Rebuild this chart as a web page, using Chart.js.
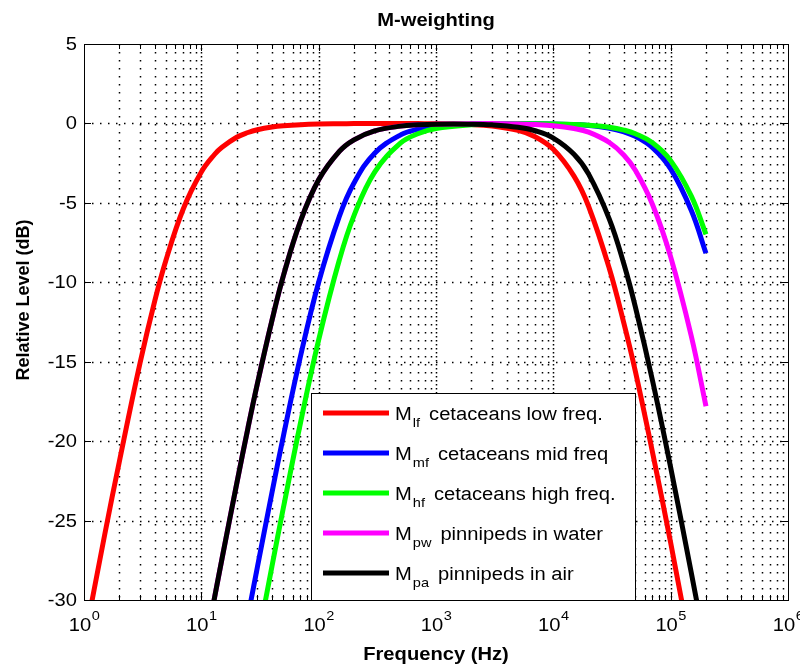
<!DOCTYPE html>
<html>
<head>
<meta charset="utf-8">
<script src="https://cdn.jsdelivr.net/npm/chart.js@4/dist/chart.umd.min.js"></script>
<style>
html,body{margin:0;padding:0;background:#fff;}
#wrap{width:800px;height:666px;position:relative;}
canvas{display:block;}
</style>
</head>
<body>
<div id="wrap"><canvas id="c" width="800" height="666"></canvas></div>
<script>
// ---------------- data ----------------
const chartTitle = 'M-weighting';
const xAxisTitle = 'Frequency (Hz)';
const yAxisTitle = 'Relative Level (dB)';

const freqHz = [1, 1.5, 2, 3, 4, 5, 7, 10, 13, 15, 20, 25, 30, 40, 50, 70, 100, 150, 200, 300, 500, 700,
  1000, 2000, 3000, 5000, 7000, 10000, 15000, 20000, 30000, 40000, 50000, 70000, 100000, 150000, 200000];

// M_lf cetaceans low freq.
const levelLF = [-32.7, -25.9, -21.3, -15.1, -11.2, -8.6, -5.4, -3.06, -1.94, -1.5, -0.87, -0.57, -0.4, -0.23, -0.15, -0.08, -0.04, -0.02, -0.01, 0, 0, -0.01,
  -0.02, -0.07, -0.16, -0.44, -0.84, -1.63, -3.32, -5.23, -9.13, -12.6, -15.6, -20.7, -26.4, -33.3, -38.2];
// M_mf cetaceans mid freq
const levelMF = [null, null, null, null, null, null, null, null, null, null, -34.8, -31.0, -27.96, -23.23, -19.69, -14.66, -10.0, -5.85, -3.75, -1.87, -0.72, -0.37,
  -0.19, -0.05, -0.02, -0.02, -0.02, -0.03, -0.08, -0.13, -0.3, -0.53, -0.81, -1.52, -2.86, -5.48, -8.17];
// M_hf cetaceans high freq.
const levelHF = [null, null, null, null, null, null, null, null, null, null, null, null, -32.72, -27.88, -24.2, -18.85, -13.63, -8.6, -5.8, -3.06, -1.23, -0.65,
  -0.32, -0.08, -0.04, -0.02, -0.02, -0.03, -0.06, -0.11, -0.24, -0.42, -0.65, -1.22, -2.34, -4.58, -6.98];
// M_pw pinnipeds in water
const levelPW = [null, null, null, null, null, null, null, -34.2, -29.8, -27.4, -22.7, -19.15, -16.4, -12.4, -9.6, -6.15, -3.55, -1.76, -1.03, -0.47, -0.17, -0.09,
  -0.05, -0.02, -0.01, -0.04, -0.07, -0.14, -0.32, -0.55, -1.2, -2.0, -2.95, -5.1, -8.4, -13.4, -17.8];
// M_pa pinnipeds in air
const levelPA = [null, null, null, null, null, null, null, -34.2, -29.8, -27.4, -22.7, -19.15, -16.4, -12.4, -9.6, -6.15, -3.55, -1.76, -1.03, -0.47, -0.17, -0.09,
  -0.05, -0.05, -0.09, -0.24, -0.46, -0.92, -1.94, -3.19, -6.02, -8.87, -11.55, -16.18, -21.66, -28.3, -33.15];

const seriesSubscripts = ['lf', 'mf', 'hf', 'pw', 'pa'];
const seriesDescriptions = ['cetaceans low freq.', 'cetaceans mid freq', 'cetaceans high freq.', 'pinnipeds in water', 'pinnipeds in air'];
const seriesColors = ['#ff0000', '#0000ff', '#00ff00', '#ff00ff', '#000000'];

const xTickExponents = [0, 1, 2, 3, 4, 5, 6];
const xMinorMultipliers = [2, 3, 4, 5, 6, 7, 8, 9];
const yTickValues = [5, 0, -5, -10, -15, -20, -25, -30];

// ---------------- drawing ----------------
const FONT = '"Liberation Sans", Arial, Helvetica, sans-serif';
const SX = 1.12; // horizontal stretch of the reference's text

function drawText(ctx, s, x, y, font, align, baseline, sx) {
  ctx.save();
  ctx.font = font;
  ctx.textAlign = align;
  ctx.textBaseline = baseline;
  ctx.translate(x, y);
  ctx.scale(sx, 1);
  ctx.fillStyle = '#000';
  ctx.fillText(s, 0, 0);
  ctx.restore();
}
function textW(ctx, s, font) { ctx.save(); ctx.font = font; const w = ctx.measureText(s).width; ctx.restore(); return w; }

const levels = [levelLF, levelMF, levelHF, levelPW, levelPA];
const datasets = levels.map((arr, i) => ({
  label: 'M' + seriesSubscripts[i] + ' ' + seriesDescriptions[i],
  data: freqHz.map((f, j) => ({ x: f, y: arr[j] })),
  borderColor: seriesColors[i],
  backgroundColor: seriesColors[i],
  borderWidth: 5,
  pointRadius: 0,
  pointHoverRadius: 0,
  fill: false,
  tension: 0.4,
  borderJoinStyle: 'round',
  clip: 0,
  spanGaps: false,
  order: levels.length - i
}));

const matlabAxes = {
  id: 'matlabAxes',
  beforeDraw(chart) {
    const ctx = chart.ctx;
    ctx.save();
    ctx.fillStyle = '#fff';
    ctx.fillRect(0, 0, chart.width, chart.height);
    ctx.restore();
  },
  beforeDatasetsDraw(chart) {
    const ctx = chart.ctx, a = chart.chartArea, xs = chart.scales.x, ys = chart.scales.y;
    ctx.save();
    ctx.strokeStyle = '#000';
    ctx.lineWidth = 1.5;
    // vertical grid (minor + decades)
    for (let k = 0; k < 6; k++) {
      for (const m of [1].concat(xMinorMultipliers)) {
        const f = m * Math.pow(10, k);
        if (f <= 1 || f >= 1e6) continue;
        const px = Math.round(xs.getPixelForValue(f)) + 0.5;
        ctx.setLineDash([1.5, 6.5]);
        ctx.lineDashOffset = 0;
        ctx.beginPath(); ctx.moveTo(px, a.top); ctx.lineTo(px, a.bottom); ctx.stroke();
        if (m === 1) {
          ctx.lineDashOffset = 4;
          ctx.beginPath(); ctx.moveTo(px, a.top); ctx.lineTo(px, a.bottom); ctx.stroke();
        }
      }
    }
    // horizontal grid
    ctx.setLineDash([1.5, 6.5]);
    ctx.lineDashOffset = 0;
    for (const v of yTickValues) {
      if (v === ys.min || v === ys.max) continue;
      const py = Math.round(ys.getPixelForValue(v)) + 0.5;
      ctx.beginPath(); ctx.moveTo(a.left, py); ctx.lineTo(a.right, py); ctx.stroke();
    }
    ctx.restore();
  },
  afterDatasetsDraw(chart) {
    const ctx = chart.ctx, a = chart.chartArea, xs = chart.scales.x, ys = chart.scales.y;
    ctx.save();
    ctx.strokeStyle = '#000';
    ctx.lineWidth = 1;
    ctx.setLineDash([]);
    // tick marks (inward, all four sides)
    for (let k = 0; k <= 6; k++) {
      for (const m of [1].concat(xMinorMultipliers)) {
        const f = m * Math.pow(10, k);
        if (f > 1e6) continue;
        const px = Math.round(xs.getPixelForValue(f)) + 0.5;
        const len = m === 1 ? 7 : 5;
        ctx.beginPath();
        ctx.moveTo(px, a.bottom); ctx.lineTo(px, a.bottom - len);
        ctx.moveTo(px, a.top); ctx.lineTo(px, a.top + len);
        ctx.stroke();
      }
    }
    for (const v of yTickValues) {
      const py = Math.round(ys.getPixelForValue(v)) + 0.5;
      ctx.beginPath();
      ctx.moveTo(a.left, py); ctx.lineTo(a.left + 7, py);
      ctx.moveTo(a.right, py); ctx.lineTo(a.right - 7, py);
      ctx.stroke();
    }
    // axes box
    ctx.strokeRect(Math.round(a.left) + 0.5, Math.round(a.top) + 0.5, Math.round(a.right - a.left), Math.round(a.bottom - a.top));

    // legend
    const lx0 = 311, ly0 = 393, lx1 = 635, ly1 = Math.round(a.bottom);
    ctx.fillStyle = '#fff';
    ctx.fillRect(lx0, ly0, lx1 - lx0, ly1 - ly0);
    ctx.strokeRect(lx0 + 0.5, ly0 + 0.5, lx1 - lx0, ly1 - ly0);
    const fMain = '18px ' + FONT, fSub = '13px ' + FONT;
    for (let i = 0; i < seriesSubscripts.length; i++) {
      const cy = 413 + i * 40;
      ctx.strokeStyle = seriesColors[i];
      ctx.lineWidth = 5;
      ctx.beginPath(); ctx.moveTo(323, cy); ctx.lineTo(389, cy); ctx.stroke();
      let x = 395;
      drawText(ctx, 'M', x, cy + 6.5, fMain, 'left', 'alphabetic', SX);
      x += textW(ctx, 'M', fMain) * SX + 1;
      drawText(ctx, seriesSubscripts[i], x, cy + 13.5, fSub, 'left', 'alphabetic', SX);
      x += textW(ctx, seriesSubscripts[i], fSub) * SX + 9;
      drawText(ctx, seriesDescriptions[i], x, cy + 6.5, fMain, 'left', 'alphabetic', SX);
    }

    // y tick labels
    const fTick = '18px ' + FONT, fSup = '13px ' + FONT;
    for (const v of yTickValues) {
      const py = ys.getPixelForValue(v);
      drawText(ctx, String(v), 77, py + 1, fTick, 'right', 'middle', SX);
    }
    // x tick labels 10^k
    for (const k of xTickExponents) {
      const px = xs.getPixelForValue(Math.pow(10, k));
      const w10 = textW(ctx, '10', fTick) * SX;
      const ws = textW(ctx, String(k), fSup) * SX;
      const x0 = px - (w10 + ws) / 2;
      drawText(ctx, '10', x0, 631, fTick, 'left', 'alphabetic', SX);
      drawText(ctx, String(k), x0 + w10 + 0.5, 620, fSup, 'left', 'alphabetic', SX);
    }
    // axis titles
    const fBold = 'bold 18px ' + FONT;
    drawText(ctx, xAxisTitle, (a.left + a.right) / 2, 655, fBold, 'center', 'middle', SX);
    ctx.save();
    ctx.translate(24, 300);
    ctx.rotate(-Math.PI / 2);
    drawText(ctx, yAxisTitle, 0, 0, fBold, 'center', 'middle', 1);
    ctx.restore();
    // chart title
    drawText(ctx, chartTitle, (a.left + a.right) / 2, 21, fBold, 'center', 'middle', SX);
    ctx.restore();
  }
};

new Chart(document.getElementById('c'), {
  type: 'line',
  data: { datasets },
  options: {
    responsive: false,
    animation: false,
    devicePixelRatio: 1,
    layout: { padding: { top: 44, right: 12, left: 0, bottom: 0 } },
    plugins: { legend: { display: false }, title: { display: false }, tooltip: { enabled: false } },
    events: [],
    scales: {
      x: {
        type: 'logarithmic', min: 1, max: 1e6,
        grid: { display: false }, border: { display: false }, ticks: { display: false },
        afterFit(s) { s.height = 66; }
      },
      y: {
        type: 'linear', min: -30, max: 5,
        grid: { display: false }, border: { display: false }, ticks: { display: false },
        afterFit(s) { s.width = 84; }
      }
    }
  },
  plugins: [matlabAxes]
});
</script>
</body>
</html>
